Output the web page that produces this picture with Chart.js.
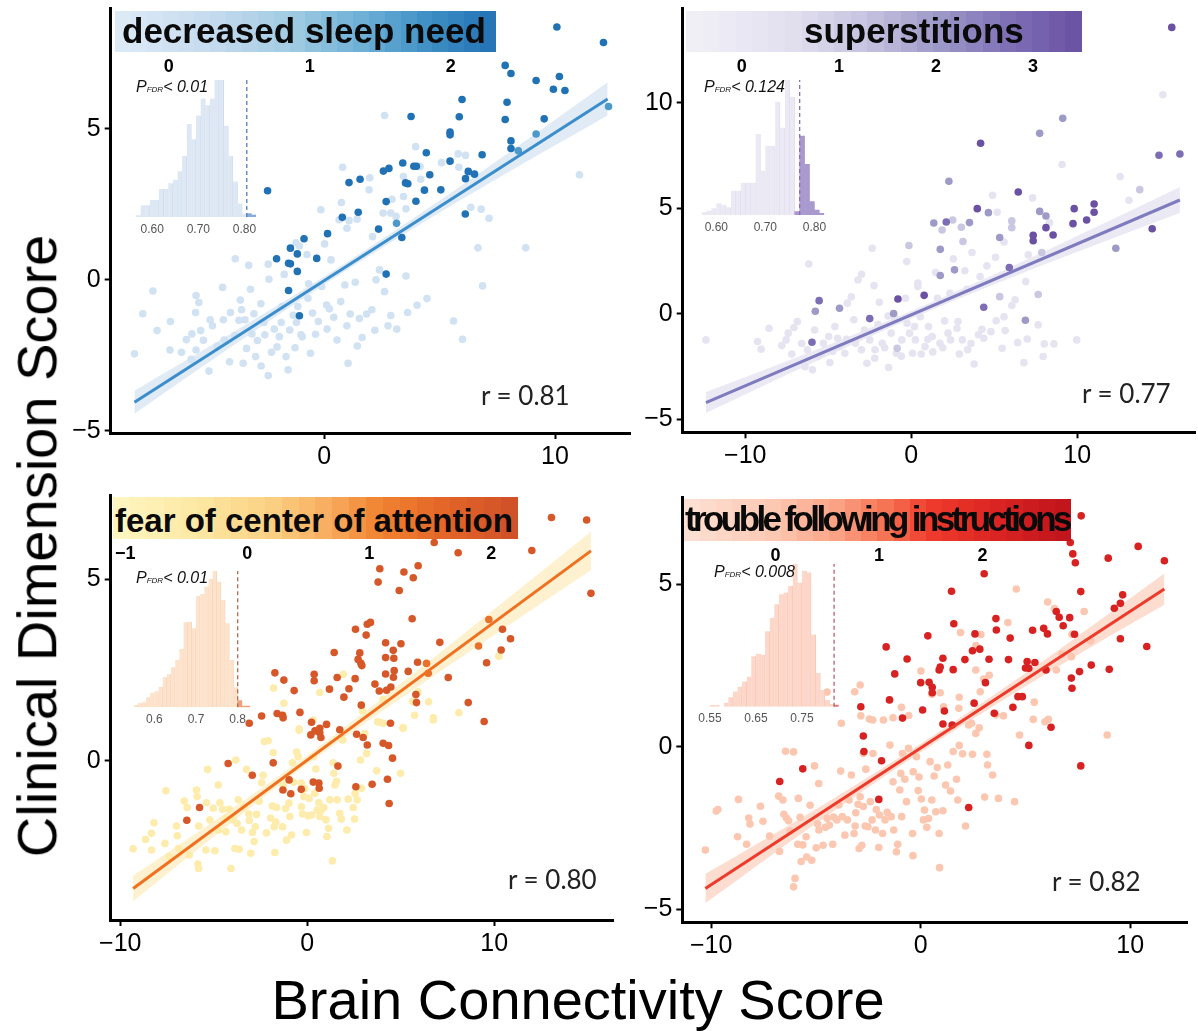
<!DOCTYPE html>
<html><head><meta charset="utf-8">
<script src="https://cdn.jsdelivr.net/npm/chart.js@4"></script>
<style>
html,body{margin:0;padding:0;background:#fff;}
body{width:1198px;height:1031px;overflow:hidden;position:relative;font-family:"Liberation Sans",Arial,sans-serif;}
.bar{position:absolute;z-index:5;}
.ttl{position:absolute;z-index:6;font-weight:bold;color:#0a0a0a;white-space:nowrap;}
.ltk{position:absolute;z-index:6;font-weight:bold;font-size:18px;line-height:18px;width:40px;text-align:center;color:#000;}
.pfdr{position:absolute;z-index:6;font-size:16px;line-height:18px;color:#111;white-space:nowrap;font-style:italic;}
.pfdr span{font-size:8px;}
.rtx{position:absolute;z-index:6;font-family:Lato,"Open Sans",sans-serif;font-size:26px;line-height:32px;color:#222;white-space:nowrap;}
.big{position:absolute;z-index:6;font-size:56px;line-height:56px;color:#000;white-space:nowrap;}
</style></head><body>
<script>
// ---------------- DATA ----------------
// Panel 1: decreased sleep need
const sleepTitle = 'decreased sleep need';
const sleepR = 'r = 0.81';
const sleepP = '< 0.01';
const sleepXTicks = [0, 10], sleepXTickLabels = ['0', '10'];
const sleepYTicks = [-5, 0, 5], sleepYTickLabels = ['\u22125', '0', '5'];
const sleepLegendTicks = [0, 1, 2], sleepLegendLabels = ['0', '1', '2'];
const sleepScores = [2.32, 1.7, 0]; // dark, mid, light groups
const sleepDark = [[10.08,8.37],[12.10,7.86],[7.84,7.10],[8.09,6.83],[9.18,6.60],[10.19,6.73],[9.93,6.31],[10.43,6.27],[5.97,5.97],[7.92,5.88],[3.76,5.41],[5.85,5.40],[7.84,5.31],[9.53,5.33],[5.45,4.89],[5.45,4.80],[8.09,4.60],[4.42,4.21],[8.09,4.35],[6.84,4.14],[3.40,3.87],[3.88,3.76],[3.99,3.76],[5.45,3.93],[2.56,3.60],[2.80,3.69],[4.57,3.48],[6.24,3.59],[6.51,3.50],[6.12,3.35],[1.07,3.22],[1.55,3.33],[3.52,3.21],[3.62,3.18],[4.34,2.97],[5.05,2.98],[-2.46,2.95],[2.68,2.59],[3.97,2.60],[6.11,2.18],[1.47,2.24],[0.78,2.07],[2.35,1.68],[0.14,1.53],[-0.88,1.36],[3.36,1.40],[-2.07,0.70],[-1.47,1.05],[-1.17,0.86],[-1.55,0.55],[-1.47,0.53],[-1.17,0.28],[-0.33,0.71],[-1.55,-0.35],[2.68,0.19],[-1.08,-1.19]];
const sleepMid = [[12.32,5.74],[9.18,4.83],[8.41,4.27],[3.13,1.87]];
const sleepLight = [[-8.23,-2.45],[-7.87,-1.12],[-7.43,-0.37],[-7.25,-1.68],[-6.67,-1.38],[-6.69,-2.32],[-6.19,-2.40],[-5.98,-1.98],[-5.77,-2.63],[-5.74,-1.79],[-5.56,-0.52],[-5.44,-0.75],[-5.58,-1.08],[-5.56,-2.32],[-5.36,-1.68],[-5.24,-2.00],[-5.00,-3.02],[-4.95,-1.32],[-4.85,-1.52],[-4.64,-2.19],[-4.41,-0.25],[-4.38,-1.32],[-4.34,-1.99],[-4.11,-2.71],[-4.07,-1.08],[-3.86,0.70],[-3.88,-1.84],[-3.70,-1.34],[-3.64,-0.67],[-3.59,-0.99],[-3.52,-2.76],[-3.44,-1.32],[-3.37,-2.27],[-3.28,0.48],[-3.20,-0.31],[-3.14,-1.79],[-3.05,-1.12],[-2.98,-2.54],[-2.90,-2.01],[-2.75,-0.79],[-2.74,-2.85],[-2.62,-1.41],[-2.58,-1.82],[-2.43,-3.17],[-2.40,0.02],[-2.43,0.52],[-2.29,-2.40],[-2.17,-1.63],[-2.05,-2.22],[-1.95,-1.88],[-1.87,-1.41],[-1.83,-0.88],[-1.74,0.18],[-1.66,-2.54],[-1.57,-2.98],[-1.50,-1.66],[-1.35,-1.17],[-1.27,-2.25],[-1.21,-1.41],[-1.15,-0.88],[-1.01,-1.82],[-0.96,-1.88],[-0.75,0.84],[-0.68,-0.13],[-0.71,-0.61],[-0.60,-2.43],[-0.51,-1.10],[-0.38,-1.80],[-0.26,-1.38],[-0.11,-0.22],[0.01,1.19],[0.10,-0.83],[0.12,-1.63],[0.22,-0.96],[0.29,0.66],[0.41,-1.24],[0.55,-1.99],[0.71,-0.72],[0.89,-0.17],[0.98,-1.52],[1.03,-2.76],[1.12,-1.13],[1.34,-0.08],[1.43,-2.19],[1.52,-1.28],[1.64,-1.91],[1.83,-1.13],[2.06,-0.99],[2.19,-1.67],[2.24,0.00],[2.39,0.33],[2.61,-0.39],[2.76,-1.52],[2.88,-1.18],[3.14,-1.63],[3.54,0.13],[3.61,-1.08],[4.02,-0.84],[4.45,-0.62],[5.60,-1.36],[5.99,-1.97],[6.66,1.06],[6.86,-0.20],[8.73,1.06],[2.61,5.44],[3.96,4.41],[0.79,3.73],[1.97,3.38],[1.94,2.98],[-0.15,2.32],[0.74,2.56],[0.64,1.99],[0.98,1.71],[1.42,2.01],[1.07,1.96],[2.55,2.21],[2.88,2.21],[3.11,2.10],[3.43,2.76],[2.93,2.67],[3.54,2.35],[4.15,3.75],[5.08,3.88],[5.80,4.17],[6.12,4.12],[5.83,3.73],[6.35,2.40],[6.80,2.34],[7.14,2.04],[11.06,3.48],[2.09,1.43],[-1.23,1.23],[-1.08,1.12],[4.18,3.33],[3.43,3.42],[6.24,3.53]];
const sleepFitX = [-8.23, 12.28], sleepFitY = [-4.05, 5.99];
const sleepBandX = [-8.23, -4, 0, 4, 8, 12.28];
const sleepBandHi = [-3.67, -1.76, 0.11, 2.11, 4.22, 6.54];
const sleepBandLo = [-4.43, -2.20, -0.15, 1.77, 3.58, 5.44];
const sleepHistX = [0.57,0.58,0.59,0.60,0.61,0.62,0.63,0.64,0.65,0.66,0.67,0.68,0.69,0.70,0.71,0.72,0.73,0.74,0.75,0.76,0.77,0.78,0.79,0.80];
const sleepHistN = [5,35,35,50,50,83,83,100,110,135,180,275,230,300,350,330,350,405,405,270,180,105,40,10];
const sleepHistDarkX = [0.81, 0.82], sleepHistDarkN = [10, 6];
const sleepObserved = 0.805;
const sleepHistTicks = [0.60, 0.70, 0.80], sleepHistTickLabels = ['0.60', '0.70', '0.80'];

// Panel 2: superstitions
const superTitle = 'superstitions';
const superR = 'r = 0.77';
const superP = '< 0.124';
const superXTicks = [-10, 0, 10], superXTickLabels = ['\u221210', '0', '10'];
const superYTicks = [-5, 0, 5, 10], superYTickLabels = ['\u22125', '0', '5', '10'];
const superLegendTicks = [0, 1, 2, 3], superLegendLabels = ['0', '1', '2', '3'];
const superScores = [3.5, 2.8, 2.0, 1.2, 0.2];
const superDark = [[15.70,13.58],[4.18,8.09],[6.45,5.78],[3.98,4.99],[9.82,4.99],[11.02,5.21],[11.02,4.82],[9.75,4.28],[10.57,4.45],[14.52,4.04],[7.35,3.73],[7.35,3.47],[8.12,4.09],[8.55,3.74],[0.78,0.88],[-0.80,0.71]];
const superDarkMid = [[14.93,7.52],[16.19,7.58],[2.11,4.36],[5.91,2.20],[-5.55,0.63],[-2.50,-0.22],[4.37,0.32],[-5.98,-1.34]];
const superMid = [[9.13,9.27],[7.74,8.56],[2.27,6.29],[4.65,4.80],[7.74,4.86],[8.12,4.64],[1.36,4.31],[3.51,4.33],[5.33,3.62],[1.75,3.06],[12.33,3.11],[1.75,1.82],[2.61,2.09],[-5.78,0.13],[-4.32,0.27],[-1.06,0.02],[6.88,-0.30]];
const superMidLight = [[13.77,5.89],[1.86,3.98],[2.50,4.45],[3.02,4.11],[3.12,3.43],[6.06,4.41],[6.06,4.09],[-0.14,3.24],[7.87,2.91],[5.33,0.82],[7.65,0.92],[-0.85,-1.63]];
const superLight = [[15.16,10.39],[9.09,7.08],[12.59,6.51],[13.12,5.39],[4.90,5.62],[7.31,5.50],[5.18,4.82],[8.34,4.33],[5.59,3.41],[-2.35,3.11],[-12.37,-1.23],[-9.26,-1.31],[-9.04,-1.67],[-8.57,-0.68],[-7.54,-1.23],[-7.41,-0.91],[-7.07,-0.64],[-6.86,-0.36],[-6.40,-2.50],[-6.25,-1.70],[-6.17,2.37],[-5.95,-2.65],[-5.82,-0.76],[-5.61,-2.02],[-5.29,-1.39],[-4.97,-1.07],[-4.73,-1.78],[-4.43,-1.15],[-4.32,-1.55],[-4.00,-1.86],[-3.85,0.51],[-3.61,0.81],[-3.46,-0.28],[-3.36,-1.39],[-3.21,1.61],[-2.99,1.88],[-2.82,-0.76],[-2.67,-2.34],[-2.50,-1.23],[-2.24,1.34],[-2.18,-1.70],[-1.92,0.55],[-1.75,-1.39],[-1.36,-2.54],[-1.21,-0.91],[-1.00,-0.20],[-0.89,-1.86],[-0.57,-1.23],[-0.35,0.74],[-0.27,2.48],[-0.25,-0.44],[-0.10,-0.91],[0.08,-1.86],[0.25,-1.23],[0.40,1.30],[0.55,-0.13],[0.83,-1.55],[1.04,-0.60],[1.26,-1.07],[1.47,1.96],[1.58,0.74],[1.73,-1.39],[2.01,-0.33],[2.22,-0.91],[2.37,-1.23],[2.54,2.61],[2.76,-0.68],[2.82,-0.36],[3.08,-1.23],[3.23,2.05],[3.40,-1.70],[3.66,2.91],[3.79,-2.37],[4.05,-0.99],[4.26,-0.73],[4.37,-1.15],[4.56,2.28],[4.80,-0.84],[5.08,2.69],[5.12,-0.32],[5.48,-1.63],[5.59,-0.13],[5.66,-0.79],[6.06,0.40],[6.26,0.67],[6.41,-1.36],[6.79,-2.31],[6.90,1.53],[6.99,-1.19],[7.05,2.80],[7.65,-0.52],[7.95,-2.02],[8.02,-1.42],[8.60,-1.42],[9.97,-1.23],[4.15,1.77],[3.36,1.17],[2.33,0.98],[0.40,1.46],[-7.8,-1.5],[-7.2,-1.9],[-6.6,-1.4],[-5.4,-1.9],[-4.9,-2.3],[-3.9,-1.2],[-3.0,-1.7],[-2.2,-2.1],[-1.6,-1.6],[-0.6,-2.0],[0.6,-1.9],[1.3,-1.8],[1.9,-1.6],[2.9,-1.9],[-2.0,-0.5],[-1.4,-0.1],[0.2,-0.6],[1.0,-1.2],[3.6,-1.4],[-4.6,-0.6]];
const superFitX = [-12.37, 16.19], superFitY = [-4.20, 5.40];
const superBandX = [-12.37, -6, 0, 6, 12, 16.19];
const superBandHi = [-3.70, -1.78, 0.14, 2.22, 4.44, 6.02];
const superBandLo = [-4.70, -2.34, -0.22, 1.72, 3.54, 4.78];
const superHistX = [0.575,0.585,0.595,0.605,0.615,0.625,0.635,0.645,0.655,0.665,0.675,0.685,0.695,0.705,0.715,0.725,0.735,0.745,0.755];
const superHistN = [8,13,20,35,30,23,73,73,97,97,97,243,133,208,208,340,262,405,355];
const superHistDarkX = [0.765,0.775,0.785,0.795,0.805,0.815], superHistDarkN = [10,237,152,40,15,5];
const superObserved = 0.770;
const superHistTicks = [0.60, 0.70, 0.80], superHistTickLabels = ['0.60', '0.70', '0.80'];

// Panel 3: fear of center of attention
const fearTitle = 'fear of center of attention';
const fearR = 'r = 0.80';
const fearP = '< 0.01';
const fearXTicks = [-10, 0, 10], fearXTickLabels = ['\u221210', '0', '10'];
const fearYTicks = [0, 5], fearYTickLabels = ['0', '5'];
const fearLegendTicks = [-1, 0, 1, 2], fearLegendLabels = ['\u22121', '0', '1', '2'];
const fearScores = [2.0, 1.4, -0.6];
const fearDark = [[13.06,6.70],[14.94,6.63],[12.01,5.79],[15.17,4.61],[8.07,5.73],[6.79,6.01],[3.88,5.29],[5.17,5.20],[5.93,5.37],[5.67,5.04],[3.79,4.92],[4.92,4.69],[5.61,3.91],[2.58,3.62],[3.21,3.76],[3.38,3.81],[3.15,3.46],[7.09,3.26],[4.19,3.25],[4.60,3.04],[5.01,3.22],[1.44,2.98],[2.81,2.97],[2.72,2.79],[2.87,2.68],[4.19,2.84],[4.63,2.82],[2.92,2.62],[10.44,3.62],[10.87,3.36],[10.37,3.05],[9.59,2.70],[5.90,2.71],[5.40,2.46],[4.19,2.39],[4.65,2.48],[4.61,2.30],[7.54,2.29],[1.60,2.29],[2.56,2.26],[0.37,2.38],[0.37,2.20],[2.23,1.98],[-1.73,2.42],[-1.25,2.22],[-0.70,1.93],[1.19,1.97],[3.62,2.11],[3.85,1.92],[4.24,1.94],[4.47,2.03],[5.81,1.82],[1.96,1.75],[5.84,1.60],[2.89,1.53],[8.61,1.60],[-2.44,1.23],[-1.61,1.30],[-1.32,1.25],[-1.29,1.18],[-0.39,1.33],[0.23,1.06],[1.03,1.00],[1.74,0.85],[4.45,1.03],[9.46,1.08],[0.67,0.89],[-3.10,1.03],[0.19,0.71],[0.41,0.82],[0.67,0.77],[0.73,0.64],[2.64,0.73],[2.99,0.64],[3.21,0.43],[4.06,0.48],[4.35,0.42],[4.56,0.07],[-4.23,-0.08],[-2.94,-0.40],[-0.97,-0.53],[-1.30,-0.81],[-0.88,-0.91],[-0.32,-0.79],[0.32,-0.59],[0.62,-0.62],[0.64,-0.76],[1.64,-0.15],[2.60,-0.72],[3.47,-0.65],[4.29,-0.51],[4.38,-1.18],[-5.76,-1.29],[-6.44,-1.64],[-1.82,-0.06]];
const fearMid = [[9.71,3.89],[9.16,3.16],[6.38,2.68],[6.47,2.41]];
const fearLight = [[-1.80,2.00],[-1.25,1.58],[0.32,1.12],[0.67,1.88],[1.92,2.38],[2.96,1.37],[3.88,1.06],[4.06,1.69],[5.13,0.91],[5.63,1.63],[5.74,1.25],[5.93,1.90],[6.49,1.62],[6.74,1.18],[8.11,1.32],[10.25,2.88],[-0.43,0.87],[-9.31,-2.43],[-8.65,-2.17],[-8.33,-2.46],[-8.20,-1.71],[-8.33,-2.00],[-7.61,-2.28],[-7.56,-0.83],[-7.38,-2.64],[-6.99,-1.80],[-6.88,-2.42],[-6.95,-2.07],[-6.58,-1.11],[-6.42,-1.29],[-6.31,-2.60],[-5.92,-0.81],[-5.89,-0.99],[-5.85,-2.85],[-5.81,-2.97],[-5.80,-1.80],[-5.42,-2.46],[-5.39,-1.16],[-5.33,-0.24],[-5.21,-1.63],[-5.03,-1.31],[-4.94,-2.48],[-4.76,-1.91],[-4.76,-0.67],[-4.67,-1.16],[-4.53,-1.34],[-4.35,-1.59],[-4.35,-1.96],[-4.17,-1.34],[-4.08,-2.97],[-3.96,-1.63],[-3.82,0.02],[-3.87,-2.42],[-3.75,-1.73],[-3.69,-1.08],[-3.64,-2.44],[-3.51,-1.91],[-3.39,-1.27],[-3.25,-0.24],[-3.12,-1.47],[-3.10,-1.65],[-3.02,-2.55],[-2.93,-1.98],[-2.84,-2.23],[-2.78,-1.82],[-2.71,-1.48],[-2.57,-1.12],[-2.44,-0.61],[-2.36,-0.40],[-2.30,0.53],[-2.09,0.55],[-2.18,-1.99],[-1.96,-1.58],[-1.87,-1.25],[-1.82,0.22],[-1.77,-1.82],[-1.73,-2.53],[-1.68,-1.69],[-1.64,-1.29],[-1.32,-1.82],[-1.29,-0.68],[-1.16,-1.32],[-1.11,-2.19],[-0.98,-1.17],[-0.93,-1.54],[-0.84,-2.05],[-0.79,-0.06],[-0.73,-0.59],[-0.57,0.24],[-0.48,0.11],[-0.43,0.84],[-0.32,-0.62],[-0.31,-1.27],[-0.25,-1.47],[-0.18,-0.99],[-0.13,-0.77],[-0.04,-1.98],[0.05,-1.52],[0.10,-1.04],[0.23,-1.50],[0.32,0.11],[0.41,-0.90],[0.46,-0.23],[0.53,-1.36],[0.62,-1.16],[0.67,-1.54],[0.76,-1.36],[0.89,-1.29],[1.00,-1.63],[1.05,-2.09],[1.14,-1.86],[1.21,-1.08],[1.35,-2.76],[1.39,-0.06],[1.42,-0.35],[1.48,-0.67],[1.57,-0.57],[1.60,-1.08],[1.74,-1.45],[1.82,-1.61],[1.90,0.57],[2.12,-1.91],[2.19,-1.06],[2.46,-1.29],[2.53,-1.61],[2.56,-0.90],[2.67,-1.08],[2.85,0.02],[2.90,-0.76],[3.08,0.75],[3.17,0.20],[3.71,-0.28],[3.76,1.07],[4.06,1.03],[4.99,-0.35],[5.13,0.89],[6.74,1.12]];
const fearFitX = [-9.31, 15.17], fearFitY = [-3.52, 5.78];
const fearBandX = [-9.31, -4, 0, 4, 9, 15.17];
const fearBandHi = [-3.17, -1.32, 0.14, 1.72, 3.76, 6.31];
const fearBandLo = [-3.87, -1.68, -0.10, 1.36, 3.12, 5.25];
const fearHistX = [0.555,0.565,0.575,0.585,0.595,0.605,0.615,0.625,0.635,0.645,0.655,0.665,0.675,0.685,0.695,0.705,0.715,0.725,0.735,0.745,0.755,0.765,0.775,0.785,0.795];
const fearHistN = [7,12,15,30,44,48,62,90,99,120,142,175,255,257,237,334,340,362,385,409,377,322,252,142,60];
const fearHistDarkX = [0.805,0.815,0.825], fearHistDarkN = [20,4,4];
const fearObserved = 0.800;
const fearHistTicks = [0.6, 0.7, 0.8], fearHistTickLabels = ['0.6', '0.7', '0.8'];

// Panel 4: trouble following instructions
const troubleTitle = 'trouble following instructions';
const troubleR = 'r = 0.82';
const troubleP = '< 0.008';
const troubleXTicks = [-10, 0, 10], troubleXTickLabels = ['\u221210', '0', '10'];
const troubleYTicks = [-5, 0, 5], troubleYTickLabels = ['\u22125', '0', '5'];
const troubleLegendTicks = [0, 1, 2], troubleLegendLabels = ['0', '1', '2'];
const troubleScores = [2.2, 0];
const troubleDark = [[7.66,7.10],[7.14,6.28],[7.26,5.93],[7.38,5.66],[8.95,5.80],[10.38,6.16],[11.63,5.72],[3.03,5.32],[7.64,4.77],[1.47,4.78],[6.47,4.16],[6.61,3.98],[7.11,3.97],[6.80,3.72],[9.64,4.67],[9.24,4.26],[9.53,4.41],[3.59,3.94],[3.61,3.59],[4.27,3.34],[5.34,3.58],[5.87,3.64],[6.05,3.47],[1.58,3.78],[2.59,3.47],[0.34,3.41],[2.47,2.95],[2.82,3.00],[2.11,2.68],[3.26,2.69],[4.19,2.68],[5.08,2.62],[5.45,2.59],[5.00,2.42],[5.16,2.41],[5.98,2.36],[7.34,3.46],[9.53,3.32],[10.79,3.08],[8.14,2.51],[9.00,2.38],[7.58,2.31],[7.19,2.11],[7.22,1.80],[-1.65,3.07],[-0.65,2.70],[-1.24,2.24],[1.06,2.72],[0.93,2.45],[0.88,2.36],[1.55,2.37],[0.00,1.97],[0.40,1.98],[0.55,1.83],[0.55,1.66],[3.09,1.97],[2.55,1.34],[3.51,1.03],[4.40,1.21],[4.64,1.54],[4.85,1.54],[-1.49,1.44],[-2.86,1.23],[0.09,1.13],[-0.87,0.88],[1.13,1.10],[1.50,0.67],[6.22,0.60],[1.06,0.70],[-2.74,0.33],[-2.71,-0.15],[-1.87,-0.43],[-5.63,-0.68],[-6.73,-1.07],[5.16,0.04],[7.64,-0.59],[2.29,-1.87],[-2.00,-1.62]];
const troubleLight = [[4.56,4.85],[6.06,4.45],[6.38,4.25],[7.80,4.16],[4.16,3.82],[1.90,3.51],[2.87,3.45],[2.64,3.11],[7.22,3.46],[6.74,2.85],[7.19,2.77],[8.11,3.25],[2.63,2.36],[3.27,2.20],[3.01,2.08],[2.84,1.69],[1.84,1.52],[0.93,1.66],[0.53,1.61],[0.01,2.33],[-0.92,1.21],[-0.57,0.96],[-1.32,0.89],[-1.78,0.82],[-2.29,0.82],[-2.45,0.85],[-2.86,0.95],[-2.89,1.90],[-3.15,1.69],[-3.79,0.72],[-4.47,1.68],[1.82,1.18],[1.09,1.23],[2.43,0.72],[2.79,0.58],[3.59,0.98],[3.95,0.95],[5.42,1.37],[5.37,0.84],[6.09,0.84],[6.47,2.36],[-10.28,-3.18],[-9.76,-1.98],[-9.68,-1.93],[-8.74,-2.77],[-8.70,-1.62],[-8.31,-3.00],[-8.21,-2.19],[-8.15,-2.38],[-7.65,-1.83],[-7.53,-2.29],[-7.21,-2.75],[-6.78,-1.52],[-6.74,-3.22],[-6.58,-1.64],[-6.53,-2.08],[-6.41,-2.19],[-6.31,-2.28],[-6.23,-2.59],[-6.45,-0.14],[-6.07,-0.16],[-6.00,-4.05],[-6.07,-4.31],[-5.87,-3.00],[-5.84,-1.59],[-5.76,-2.17],[-5.71,-3.53],[-5.63,-3.02],[-5.44,-3.39],[-5.47,-2.77],[-5.28,-1.80],[-5.20,-3.49],[-5.07,-0.59],[-4.99,-3.11],[-4.92,-2.38],[-4.87,-1.13],[-4.86,-2.56],[-4.66,-3.03],[-4.55,-2.48],[-4.47,-2.20],[-4.36,-2.41],[-4.20,-3.00],[-4.16,-2.16],[-4.00,-2.25],[-3.91,-1.79],[-3.82,-0.75],[-3.74,-2.15],[-3.62,-2.72],[-3.50,-2.25],[-3.42,-1.64],[-3.31,-0.87],[-3.18,-2.67],[-3.13,-2.44],[-3.10,-2.03],[-2.99,-1.77],[-2.94,-3.13],[-2.89,-1.54],[-2.81,-3.03],[-2.74,-0.21],[-2.74,-1.84],[-2.65,-2.44],[-2.62,-0.69],[-2.52,-2.46],[-2.41,-1.69],[-2.32,-2.25],[-2.28,-0.21],[-2.16,-2.56],[-2.12,-1.93],[-2.00,-3.10],[-1.97,-2.10],[-1.82,-2.67],[-1.70,-2.25],[-1.60,-2.02],[-1.47,0.05],[-1.41,-2.15],[-1.32,-1.08],[-1.29,-2.56],[-1.16,-3.23],[-1.10,-3.00],[-1.00,-1.33],[-0.95,-0.82],[-0.91,-2.15],[-0.87,-0.21],[-0.76,-1.00],[-0.68,-1.69],[-0.58,-0.05],[-0.39,-2.67],[-0.37,-3.35],[-0.36,-0.77],[-0.20,-0.31],[-0.12,-1.35],[-0.08,-0.93],[0.03,-1.61],[0.13,-2.25],[0.18,-1.95],[0.29,-2.48],[0.37,-2.21],[0.45,-0.46],[0.53,-1.64],[0.64,-0.90],[0.72,-2.00],[0.79,-0.64],[0.88,-2.67],[0.90,-3.72],[1.06,-1.97],[1.19,-1.18],[1.29,-0.56],[1.42,-1.36],[1.55,-0.15],[1.71,-1.00],[1.77,-1.64],[1.84,0.04],[2.00,-0.22],[2.14,-2.44],[2.29,0.67],[2.47,-0.23],[2.63,0.41],[3.05,-1.55],[3.16,-0.23],[3.19,-0.56],[3.43,-0.87],[3.71,-1.59],[4.48,-1.69],[4.72,0.36],[5.93,0.77],[8.90,0.36]];
const troubleFitX = [-10.28, 11.63], troubleFitY = [-4.36, 4.85];
const troubleBandX = [-10.28, -5, 0, 5, 9, 11.63];
const troubleBandHi = [-3.91, -1.92, 0.09, 2.26, 4.10, 5.33];
const troubleBandLo = [-4.81, -2.36, -0.17, 1.86, 3.40, 4.37];
const troubleHistX = [0.555,0.565,0.575,0.585,0.595,0.605,0.615,0.625,0.635,0.645,0.655,0.665,0.675,0.685,0.695,0.705,0.715,0.725,0.735,0.745,0.755,0.765,0.775,0.785,0.795,0.805,0.815];
const troubleHistN = [5,5,0,12,28,45,60,75,90,150,158,155,225,265,305,335,340,360,425,370,405,400,215,100,50,20,8];
const troubleHistDarkX = [0.825], troubleHistDarkN = [5];
const troubleObserved = 0.820;
const troubleHistTicks = [0.55, 0.65, 0.75], troubleHistTickLabels = ['0.55', '0.65', '0.75'];

const xAxisTitle = 'Brain Connectivity Score';
const yAxisTitle = 'Clinical Dimension Score';

// ---------------- STYLE / LAYOUT ----------------
const FONT = '"Liberation Sans", Arial, sans-serif';
const OFF = 50, CW = 1298, CH = 1131;
const palBlues = [[-0.38,'#deebf7'],[0.3,'#c6dbef'],[0.9,'#9ecae1'],[1.4,'#6baed6'],[1.8,'#4292c6'],[2.32,'#2171b5']];
const palPurples = [[-0.58,'#f2f0f7'],[0.5,'#e2e0ef'],[1.3,'#c5c3e0'],[2.0,'#9e9ac8'],[2.8,'#7d6db5'],[3.51,'#6a51a3']];
const palOranges = [[-1.1,'#fef6c2'],[-0.4,'#fde8a2'],[0.2,'#fbd083'],[0.7,'#f7aa5c'],[1.1,'#f08230'],[1.6,'#e46628'],[2.22,'#cf4f28']];
const palReds = [[-0.89,'#fee2d6'],[0,'#fcc7b1'],[0.6,'#fba184'],[1.1,'#f5704f'],[1.5,'#ef3b2c'],[2.2,'#d82222'],[2.86,'#bd141b']];

function hexToRgb(h){const n=parseInt(h.slice(1),16);return [(n>>16)&255,(n>>8)&255,n&255];}
function colorAt(pal,v){
  if(v<=pal[0][0]) return pal[0][1];
  for(let i=1;i<pal.length;i++){
    if(v<=pal[i][0]){
      const t=(v-pal[i-1][0])/(pal[i][0]-pal[i-1][0]);
      const a=hexToRgb(pal[i-1][1]), b=hexToRgb(pal[i][1]);
      return 'rgb('+a.map((c,k)=>Math.round(c+(b[k]-c)*t)).join(',')+')';
    }
  }
  return pal[pal.length-1][1];
}
function makeCanvas(z){
  const c=document.createElement('canvas');
  c.width=CW; c.height=CH;
  c.style.cssText='position:absolute;left:-'+OFF+'px;top:-'+OFF+'px;width:'+CW+'px;height:'+CH+'px;z-index:'+z;
  document.body.appendChild(c); return c;
}
function pts(a){return a.map(p=>({x:p[0],y:p[1]}));}

function scatterPanel(c){
  const cv=makeCanvas(1);
  const WY=70, HX=50;
  const pad={left:c.L+OFF-WY, top:c.T+OFF, right:CW-(c.R+OFF), bottom:CH-(c.B+OFF)-HX};
  const ds=[];
  ds.push({type:'line', data:c.fitX.map((x,i)=>({x,y:c.fitY[i]})), borderColor:c.line, borderWidth:3, pointRadius:0, fill:false, order:0});
  c.groups.forEach((g,gi)=>ds.push({type:'scatter', data:pts(g), backgroundColor:colorAt(c.pal,c.scores[gi]), pointBackgroundColor:colorAt(c.pal,c.scores[gi]), pointRadius:3.8, pointBorderWidth:0, borderWidth:0, order:1+gi}));
  ds.push({type:'line', data:c.bandX.map((x,i)=>({x,y:c.bandHi[i]})), borderColor:'rgba(0,0,0,0)', borderWidth:0, pointRadius:0, fill:'+1', backgroundColor:c.band, cubicInterpolationMode:'monotone', order:20});
  ds.push({type:'line', data:c.bandX.map((x,i)=>({x,y:c.bandLo[i]})), borderColor:'rgba(0,0,0,0)', borderWidth:0, pointRadius:0, fill:false, cubicInterpolationMode:'monotone', order:21});
  const tickFont={family:FONT,size:25};
  new Chart(cv,{type:'scatter',data:{datasets:ds},options:{
    responsive:false, animation:false, devicePixelRatio:1, events:[],
    layout:{padding:pad},
    plugins:{legend:{display:false},tooltip:{enabled:false}},
    scales:{
      x:{type:'linear',min:c.xMin,max:c.xMax,
        afterBuildTicks:a=>{a.ticks=c.xTicks.map(v=>({value:v}));},
        afterFit:a=>{a.height=HX;},
        ticks:{autoSkip:false,maxRotation:0,padding:3,color:'#000',font:tickFont,callback:v=>c.xLabels[c.xTicks.indexOf(v)]},
        grid:{drawOnChartArea:false,drawTicks:true,tickLength:6,tickWidth:2,tickColor:'#000'},
        border:{display:true,color:'#000',width:3}},
      y:{type:'linear',min:c.yMin,max:c.yMax,
        afterBuildTicks:a=>{a.ticks=c.yTicks.map(v=>({value:v}));},
        afterFit:a=>{a.width=WY;},
        ticks:{autoSkip:false,padding:4,color:'#000',font:tickFont,callback:v=>c.yLabels[c.yTicks.indexOf(v)]},
        grid:{drawOnChartArea:false,drawTicks:true,tickLength:6,tickWidth:2,tickColor:'#000'},
        border:{display:true,color:'#000',width:3}}
    }}});
}

function histPanel(h){
  const cv=makeCanvas(2);
  const HX=18;
  const pad={left:h.L+OFF, top:h.T+OFF, right:CW-(h.R+OFF), bottom:CH-(h.B+OFF)-HX};
  const ds=[
    {type:'line', data:[{x:h.cut,y:0},{x:h.cut,y:h.yMax}], borderColor:h.dash, borderWidth:1.3, borderDash:[4,3], pointRadius:0, fill:false, order:0},
    {type:'bar', data:h.darkX.map((x,i)=>({x,y:h.darkN[i]})), backgroundColor:h.darkC, borderWidth:0, grouped:false, barPercentage:1, categoryPercentage:1, order:1},
    {type:'bar', data:h.x.map((x,i)=>({x,y:h.n[i]})), backgroundColor:h.lightC, borderColor:h.edgeC, borderWidth:{left:0,right:0.8,top:0,bottom:0}, grouped:false, barPercentage:1, categoryPercentage:1, order:2}
  ];
  new Chart(cv,{type:'bar',data:{datasets:ds},options:{
    responsive:false, animation:false, devicePixelRatio:1, events:[],
    layout:{padding:pad},
    plugins:{legend:{display:false},tooltip:{enabled:false}},
    scales:{
      x:{type:'linear',min:h.xMin,max:h.xMax,offset:false,
        afterBuildTicks:a=>{a.ticks=h.ticks.map(v=>({value:v}));},
        afterFit:a=>{a.height=HX;},
        ticks:{autoSkip:false,maxRotation:0,padding:5,color:'#555',font:{family:FONT,size:12},callback:v=>h.labels[h.ticks.indexOf(v)]},
        grid:{display:false,drawTicks:false},
        border:{display:false}},
      y:{display:false,min:0,max:h.yMax}
    }}});
}

function legendBar(l){
  const steps=24, stops=[];
  for(let i=0;i<steps;i++){
    const v=l.vMin+(i+0.5)/steps*(l.vMax-l.vMin);
    const col=colorAt(l.pal,v);
    stops.push(col+' '+(i/steps*100).toFixed(2)+'%', col+' '+((i+1)/steps*100).toFixed(2)+'%');
  }
  const b=document.createElement('div');
  b.className='bar';
  b.style.cssText='left:'+l.x0+'px;top:'+l.top+'px;width:'+(l.x1-l.x0)+'px;height:'+l.h+'px;background:linear-gradient(to right,'+stops.join(',')+');';
  document.body.appendChild(b);
  const t=document.createElement('div');
  t.className='ttl'; t.textContent=l.title;
  t.style.cssText='left:'+l.tLeft+'px;top:'+l.tTop+'px;font-size:'+l.tSize+'px;line-height:'+l.tSize+'px;letter-spacing:'+(l.ls||0)+'px;';
  document.body.appendChild(t);
  l.ticks.forEach((v,i)=>{
    const d=document.createElement('div');
    d.className='ltk'; d.textContent=l.labels[i];
    const x=l.x0+(v-l.vMin)/(l.vMax-l.vMin)*(l.x1-l.x0);
    d.style.left=(x-20)+'px'; d.style.top=(l.tickY-9)+'px';
    document.body.appendChild(d);
  });
}
function addText(cls,html,left,top){
  const d=document.createElement('div'); d.className=cls; d.innerHTML=html;
  d.style.left=left+'px'; d.style.top=top+'px'; document.body.appendChild(d); return d;
}
function pText(p){return '<i>P</i><span>FDR</span>'+p.replace('<','&lt;');}

// ---- panels ----
scatterPanel({L:110.7,T:8,R:630,B:433,xMin:-9.26,xMax:13.25,yMin:-5.07,yMax:9.0,
  xTicks:sleepXTicks,xLabels:sleepXTickLabels,yTicks:sleepYTicks,yLabels:sleepYTickLabels,
  groups:[sleepDark,sleepMid,sleepLight],scores:sleepScores,pal:palBlues,
  fitX:sleepFitX,fitY:sleepFitY,bandX:sleepBandX,bandHi:sleepBandHi,bandLo:sleepBandLo,
  line:'#3b8ecb',band:'rgba(198,219,239,0.55)'});
scatterPanel({L:682.7,T:8,R:1195,B:432.3,xMin:-13.77,xMax:17.1,yMin:-5.61,yMax:14.5,
  xTicks:superXTicks,xLabels:superXTickLabels,yTicks:superYTicks,yLabels:superYTickLabels,
  groups:[superDark,superDarkMid,superMid,superMidLight,superLight],scores:superScores,pal:palPurples,
  fitX:superFitX,fitY:superFitY,bandX:superBandX,bandHi:superBandHi,bandLo:superBandLo,
  line:'#7f7bbf',band:'rgba(218,216,235,0.55)'});
scatterPanel({L:110.7,T:495,R:613,B:920,xMin:-10.51,xMax:16.35,yMin:-4.39,yMax:7.32,
  xTicks:fearXTicks,xLabels:fearXTickLabels,yTicks:fearYTicks,yLabels:fearYTickLabels,
  groups:[fearDark,fearMid,fearLight],scores:fearScores,pal:palOranges,
  fitX:fearFitX,fitY:fearFitY,bandX:fearBandX,bandHi:fearBandHi,bandLo:fearBandLo,
  line:'#f07020',band:'rgba(253,224,150,0.45)'});
scatterPanel({L:682.3,T:497,R:1187,B:922.3,xMin:-11.38,xMax:12.71,yMin:-5.40,yMax:7.68,
  xTicks:troubleXTicks,xLabels:troubleXTickLabels,yTicks:troubleYTicks,yLabels:troubleYTickLabels,
  groups:[troubleDark,troubleLight],scores:troubleScores,pal:palReds,
  fitX:troubleFitX,fitY:troubleFitY,bandX:troubleBandX,bandHi:troubleBandHi,bandLo:troubleBandLo,
  line:'#ee3a2a',band:'rgba(252,187,161,0.5)'});

// ---- insets ----
histPanel({L:136,T:80,R:256,B:217,xMin:0.565,xMax:0.825,yMax:405,x:sleepHistX,n:sleepHistN,darkX:sleepHistDarkX,darkN:sleepHistDarkN,
  cut:sleepObserved,ticks:sleepHistTicks,labels:sleepHistTickLabels,lightC:'#dde8f4',edgeC:'#cbdbee',darkC:'#86abd8',dash:'#4f7fc0'});
histPanel({L:701.6,T:80,R:824.2,B:215,xMin:0.57,xMax:0.82,yMax:405,x:superHistX,n:superHistN,darkX:superHistDarkX,darkN:superHistDarkN,
  cut:superObserved,ticks:superHistTicks,labels:superHistTickLabels,lightC:'#ebe9f4',edgeC:'#dedbec',darkC:'#a999cf',dash:'#8c6fb8'});
histPanel({L:133.5,T:571,R:250.2,B:707.3,xMin:0.55,xMax:0.83,yMax:409,x:fearHistX,n:fearHistN,darkX:fearHistDarkX,darkN:fearHistDarkN,
  cut:fearObserved,ticks:fearHistTicks,labels:fearHistTickLabels,lightC:'#fde2cc',edgeC:'#f9d2b4',darkC:'#eda27c',dash:'#b5694a'});
histPanel({L:709.9,T:564,R:838.7,B:706.7,xMin:0.55,xMax:0.83,yMax:425,x:troubleHistX,n:troubleHistN,darkX:troubleHistDarkX,darkN:troubleHistDarkN,
  cut:troubleObserved,ticks:troubleHistTicks,labels:troubleHistTickLabels,lightC:'#fdd8ca',edgeC:'#f8c4b0',darkC:'#e07a7a',dash:'#b8606e'});

// ---- legends ----
legendBar({x0:115,x1:495.6,top:11,h:41,vMin:-0.381,vMax:2.317,pal:palBlues,title:sleepTitle,tLeft:122,tTop:13,tSize:35,ticks:sleepLegendTicks,labels:sleepLegendLabels,tickY:66});
legendBar({x0:685.6,x1:1082.5,top:11,h:41,vMin:-0.58,vMax:3.51,pal:palPurples,title:superTitle,tLeft:804,tTop:13,tSize:35,ticks:superLegendTicks,labels:superLegendLabels,tickY:66});
legendBar({x0:113,x1:518,top:497,h:42,vMin:-1.10,vMax:2.22,pal:palOranges,title:fearTitle,tLeft:115,tTop:504,tSize:33,ticks:fearLegendTicks,labels:fearLegendLabels,tickY:553});
legendBar({x0:683.5,x1:1071.4,top:499,h:42,vMin:-0.89,vMax:2.86,pal:palReds,title:troubleTitle,tLeft:685,tTop:501,tSize:35,ls:-3.6,ticks:troubleLegendTicks,labels:troubleLegendLabels,tickY:555});

// ---- texts ----
addText('pfdr',pText(sleepP),136,78);
addText('pfdr',pText(superP),704,78);
addText('pfdr',pText(fearP),136,569);
addText('pfdr',pText(troubleP),714,563);
addText('rtx',sleepR,481,379);
addText('rtx',superR,1082,377);
addText('rtx',fearR,508,863);
addText('rtx',troubleR,1052,865);
const xt=addText('big',xAxisTitle,0,972);
xt.style.left=(578-xt.offsetWidth/2)+'px';
const yt=addText('big',yAxisTitle,0,0);
yt.style.left=(37-yt.offsetWidth/2)+'px';
yt.style.top=(546-28)+'px';
yt.style.transform='rotate(-90deg)';
</script>
</body></html>
